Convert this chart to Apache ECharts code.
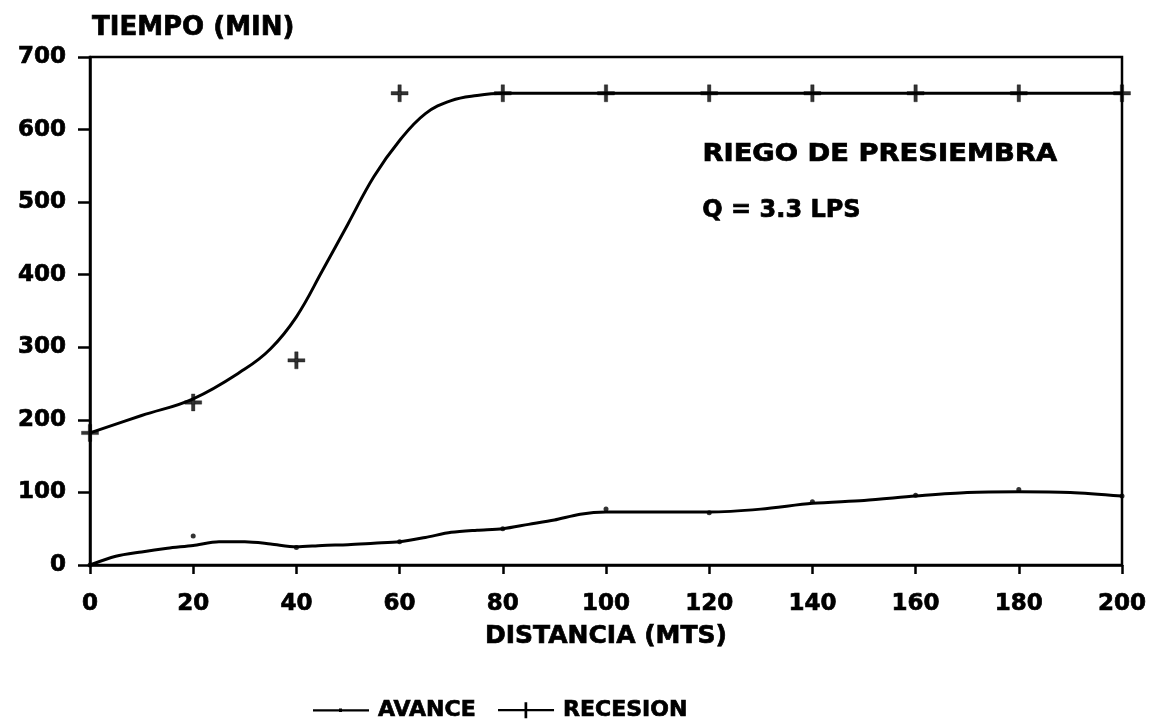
<!DOCTYPE html>
<html>
<head>
<meta charset="utf-8">
<script src="https://cdn.jsdelivr.net/npm/echarts@6/dist/echarts.min.js"></script>
<style>
  html, body { margin: 0; padding: 0; background: #fff; }
  #chart { width: 1153px; height: 724px; }
</style>
</head>
<body>
<div id="chart"></div>
<script>
// Distance along the furrow (m) and fitted curves
const avanceX = [0, 5, 10, 15, 20, 25, 30, 35, 40, 45, 50, 55, 60, 65, 70, 75, 80, 85, 90, 95, 100, 110, 120, 130, 140, 150, 160, 170, 180, 190, 200];
const avanceCurve = [0, 12, 18, 23, 27, 32, 32, 29, 25, 27, 28, 30, 32, 38, 45, 48, 50, 56, 62, 70, 73, 73, 73, 77, 85, 89, 95, 100, 101, 100, 95];

const recesionX = [0, 10, 20, 30, 35, 40, 45, 50, 55, 60, 65, 70, 75, 80, 100, 120, 140, 160, 180, 200];
const recesionCurve = [182, 206, 229, 270, 298, 342, 405, 470, 535, 585, 622, 640, 647, 650, 650, 650, 650, 650, 650, 650];

// Measured points
const puntosX = [0, 20, 40, 60, 80, 100, 120, 140, 160, 180, 200];
const avancePuntos = [0, 40, 24, 32, 50, 77, 72, 87, 96, 104, 95];
const recesionPuntos = [182, 224, 282, 650, 650, 650, 650, 650, 650, 650, 650];

const xTicks = { min: 0, max: 200, interval: 20 };
const yTicks = { min: 0, max: 700, interval: 100 };

const FONT = '"DejaVu Sans", "Liberation Sans", sans-serif';
const plusPath = 'path://M0,7.2 L18,7.2 L18,10.8 L0,10.8 Z M7.2,0 L10.8,0 L10.8,18 L7.2,18 Z';

const pairs = (xs, ys) => xs.map((x, i) => [x, ys[i]]);

// heavy black lettering
const heavy = { color: '#000', fontFamily: FONT, fontWeight: 'bold', textBorderColor: '#000', textBorderWidth: 0.7 };

const chart = echarts.init(document.getElementById('chart'), null, { renderer: 'canvas' });

chart.setOption({
  backgroundColor: '#ffffff',
  animation: false,
  grid: {
    left: 90, right: 31, top: 57, bottom: 159,
    show: true, borderColor: '#000', borderWidth: 2.5, backgroundColor: 'transparent'
  },
  xAxis: {
    type: 'value',
    min: xTicks.min, max: xTicks.max, interval: xTicks.interval,
    name: 'DISTANCIA (MTS)',
    nameLocation: 'middle',
    nameGap: 59,
    nameTextStyle: Object.assign({}, heavy, { fontSize: 25 }),
    axisLine: { show: true, lineStyle: { color: '#000', width: 2.5 } },
    axisTick: { show: true, inside: false, length: 9, lineStyle: { color: '#000', width: 2.5 } },
    axisLabel: Object.assign({}, heavy, { fontSize: 23, margin: 28 }),
    splitLine: { show: false }
  },
  yAxis: {
    type: 'value',
    min: yTicks.min, max: yTicks.max, interval: yTicks.interval,
    name: 'TIEMPO (MIN)',
    nameLocation: 'end',
    nameGap: 16,
    nameTextStyle: Object.assign({}, heavy, { fontSize: 26, align: 'left', padding: [0, 0, 0, 2] }),
    axisLine: { show: true, lineStyle: { color: '#000', width: 2.5 } },
    axisTick: { show: true, inside: false, length: 12, lineStyle: { color: '#000', width: 2.5 } },
    axisLabel: Object.assign({}, heavy, { fontSize: 23, margin: 24 }),
    splitLine: { show: false }
  },
  legend: {
    left: 308, top: 694,
    itemGap: 22,
    itemWidth: 56, itemHeight: 18,
    textStyle: Object.assign({}, heavy, { fontSize: 22, padding: [0, 0, 0, 4] }),
    data: [
      { name: 'AVANCE', icon: 'path://M0,8.6 L56,8.6 L56,10.8 L0,10.8 Z M26,8 L29,8 L29,11.5 L26,11.5 Z' },
      { name: 'RECESION', icon: 'path://M0,8.6 L56,8.6 L56,10.8 L0,10.8 Z M26.5,2 L29.2,2 L29.2,18 L26.5,18 Z' }
    ]
  },
  graphic: [
    {
      type: 'text', left: 702, top: 142, scaleX: 1.14,
      style: { text: 'RIEGO DE PRESIEMBRA', fill: '#000', stroke: '#000', lineWidth: 0.7, font: 'bold 24px ' + FONT }
    },
    {
      type: 'text', left: 702, top: 198, scaleX: 1.0,
      style: { text: 'Q = 3.3 LPS', fill: '#000', stroke: '#000', lineWidth: 0.7, font: 'bold 24px ' + FONT }
    }
  ],
  series: [
    {
      name: 'AVANCE',
      type: 'line',
      data: pairs(avanceX, avanceCurve),
      smooth: 0.3,
      showSymbol: false,
      lineStyle: { color: '#000', width: 3 },
      itemStyle: { color: '#000' },
      z: 3
    },
    {
      name: 'RECESION',
      type: 'line',
      data: pairs(recesionX, recesionCurve),
      smooth: 0.4,
      showSymbol: false,
      lineStyle: { color: '#000', width: 3 },
      itemStyle: { color: '#000' },
      z: 3
    },
    {
      name: 'AVANCE',
      type: 'scatter',
      data: pairs(puntosX, avancePuntos),
      symbol: 'circle',
      symbolSize: 5,
      itemStyle: { color: '#000' },
      z: 4
    },
    {
      name: 'RECESION',
      type: 'scatter',
      data: pairs(puntosX, recesionPuntos),
      symbol: plusPath,
      symbolSize: [17, 17],
      itemStyle: { color: '#000', borderColor: '#000', borderWidth: 0.4 },
      z: 4
    }
  ]
});
</script>
</body>
</html>
